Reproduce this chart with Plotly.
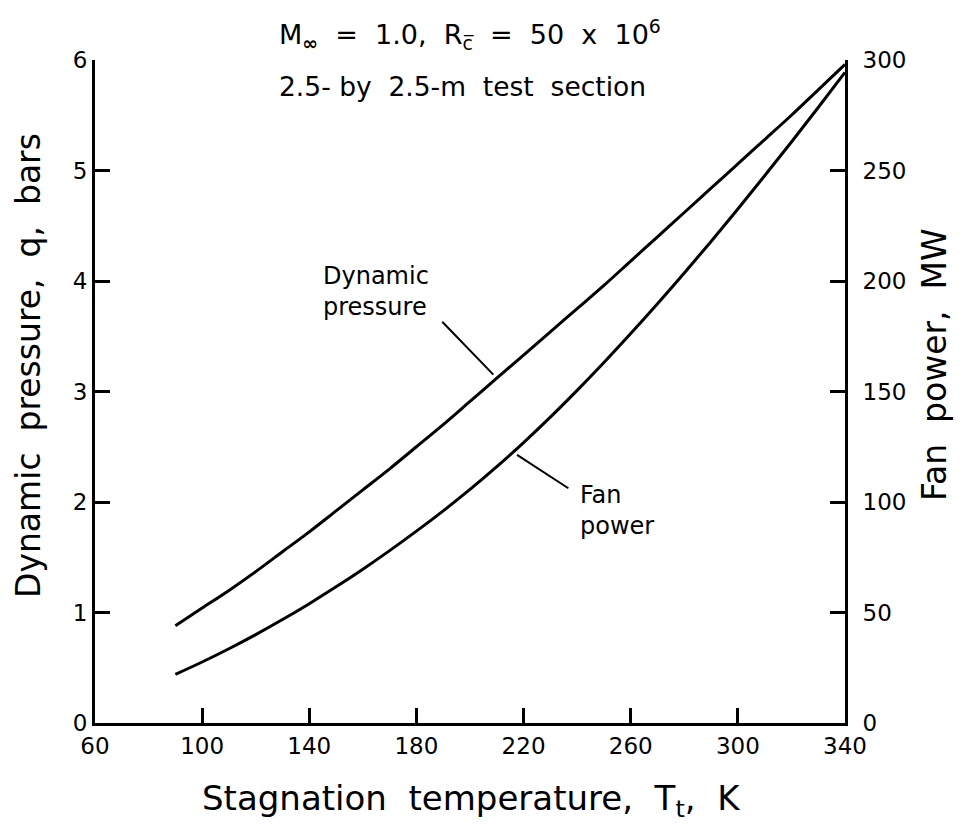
import numpy as np
import plotly.graph_objects as go

# Stagnation temperature, K
temperature = [90, 100, 110, 120, 130, 140, 150, 160, 170, 180, 190, 200, 210,
               220, 230, 240, 250, 260, 270, 280, 290, 300, 310, 320, 330, 340]
# Dynamic pressure, bars
dynamic_pressure = [0.88, 1.04, 1.20, 1.37, 1.55, 1.73, 1.92, 2.11, 2.30, 2.50,
                    2.70, 2.91, 3.12, 3.33, 3.54, 3.75, 3.96, 4.18, 4.40, 4.62,
                    4.84, 5.06, 5.28, 5.50, 5.73, 5.96]
# Fan power, MW
fan_power = [22.0, 27.6, 33.6, 40.0, 46.8, 54.0, 61.6, 69.6, 78.0, 86.8,
             96.0, 105.7, 116.0, 126.9, 138.4, 150.5, 163.1, 176.2, 189.7, 203.6,
             217.9, 232.6, 247.6, 262.9, 278.5, 294.4]

x_ticks = [60, 100, 140, 180, 220, 260, 300, 340]
y_ticks = [0, 1, 2, 3, 4, 5, 6]
y2_ticks = [0, 50, 100, 150, 200, 250, 300]

FONT = "DejaVu Sans"
INK = "black"
W, H = 960, 824
L, R, T, B = 95, 115, 60, 101
PW, PH = W - L - R, H - T - B

def xp(px):
    return (px - L) / PW

def yp(py):
    return (H - B - py) / PH

fig = go.Figure()
fig.add_trace(go.Scatter(x=temperature, y=dynamic_pressure, mode="lines",
                         line=dict(color=INK, width=3, shape="spline"),
                         showlegend=False, hoverinfo="skip"))
fig.add_trace(go.Scatter(x=temperature, y=fan_power, mode="lines", yaxis="y2",
                         line=dict(color=INK, width=3, shape="spline"),
                         showlegend=False, hoverinfo="skip"))

t_dp, t_fp = 210, 216
annotations = [
    dict(x=t_dp, y=float(np.interp(t_dp, temperature, dynamic_pressure)),
         xref="x", yref="y", ax=-56, ay=-58, text="", showarrow=True,
         arrowhead=0, arrowwidth=2, arrowcolor=INK, standoff=5),
    dict(x=t_fp, y=float(np.interp(t_fp, temperature, fan_power)),
         xref="x", yref="y2", ax=57, ay=37, text="", showarrow=True,
         arrowhead=0, arrowwidth=2, arrowcolor=INK, standoff=5),
]

def txt(text, x, y, size, xanchor="left", yanchor="middle", align="left", angle=0):
    return dict(text=text, x=xp(x), y=yp(y), xref="paper", yref="paper",
                xanchor=xanchor, yanchor=yanchor, align=align, showarrow=False,
                textangle=angle, font=dict(family=FONT, size=size, color=INK))

NB = "\u00a0"
annotations += [
    txt("Dynamic<br>pressure", 321, 291, 24),
    txt("Fan<br>power", 578, 510, 24),
    txt(f"M<sub><b>\u221e</b></sub>{NB} ={NB} 1.0,{NB} R<sub>c\u0305</sub>{NB} ={NB} 50{NB} x{NB} 10<sup>6</sup>",
        470, 35, 27, xanchor="center"),
    txt(f"2.5-{NB}by{NB} 2.5-m{NB} test{NB} section", 462, 87, 26.5, xanchor="center"),
    txt(f"Stagnation{NB} temperature,{NB} T<sub>t</sub>,{NB} K", 471, 800, 34,
        xanchor="center"),
    txt(f"Dynamic{NB} pressure,{NB} q,{NB} bars", 28, 366, 33, xanchor="center",
        angle=-90),
    txt(f"Fan{NB} power,{NB} MW", 934, 365, 33, xanchor="center", angle=-90),
]

axis_common = dict(ticks="inside", ticklen=15, tickwidth=3, tickcolor=INK,
                   showline=True, linewidth=3, linecolor=INK, showgrid=False,
                   zeroline=False, tickfont=dict(size=23, family=FONT))

fig.update_layout(
    width=W, height=H,
    margin=dict(l=L, r=R, t=T, b=B),
    paper_bgcolor="white", plot_bgcolor="white",
    font=dict(family=FONT, color=INK, size=22),
    xaxis=dict(range=[60, 340], tickvals=x_ticks, **axis_common),
    yaxis=dict(range=[0, 6], tickvals=y_ticks, **axis_common),
    yaxis2=dict(range=[0, 300], tickvals=y2_ticks, overlaying="y", side="right",
                ticklabelstandoff=10, **axis_common),
    annotations=annotations,
)

fig.write_html("out.html")
